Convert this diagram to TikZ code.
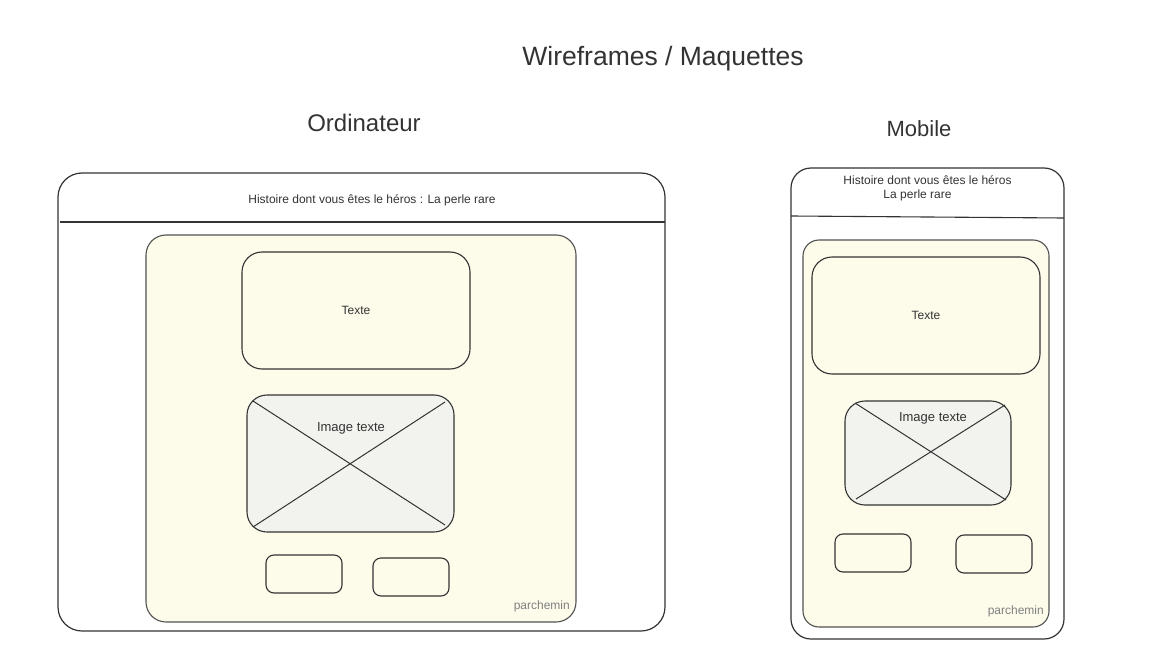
\documentclass[tikz,border=0pt]{standalone}
\usepackage{fontspec}
\setmainfont{Liberation Sans}
\usetikzlibrary{calc}
\definecolor{ink}{HTML}{333333}
\definecolor{parch}{HTML}{FDFBEA}
\definecolor{imgfill}{HTML}{F2F2EE}
\definecolor{note}{HTML}{808080}
\begin{document}
\begin{tikzpicture}[x=1pt,y=-1pt,
  screen/.style={draw=ink, line width=1.2pt, rounded corners=#1, inner sep=0pt, outer sep=0pt, fill=white},
  screen/.default=24pt,
  sheet/.style={draw=ink!85, line width=1.1pt, rounded corners=#1, inner sep=0pt, outer sep=0pt, fill=parch},
  sheet/.default=20pt,
  block/.style={draw=ink, line width=1.1pt, rounded corners=20pt, inner sep=0pt, outer sep=0pt, fill=parch},
  picbox/.style={draw=ink, line width=1.1pt, rounded corners=20pt, inner sep=0pt, outer sep=0pt, fill=imgfill},
  btn/.style={draw=ink, line width=1.1pt, rounded corners=8pt, inner sep=0pt, outer sep=0pt,
    minimum width=76pt, minimum height=38pt},
  rule/.style={draw=ink, line width=1.1pt},
  cross/.style={draw=ink, line width=1pt},
  lbl/.style={text=ink, font=\fontsize{12}{14}\selectfont, inner sep=0pt},
  piclbl/.style={text=ink, font=\fontsize{13}{15}\selectfont, inner sep=1pt, fill=imgfill},
  tag/.style={text=note, font=\fontsize{12}{14}\selectfont, inner sep=0pt, anchor=east},
  heading/.style={text=ink, inner sep=0pt}]
\useasboundingbox (0,0) rectangle (1155,668);

% titles
\node[heading, font=\fontsize{26.5}{30}\selectfont] (title) at (663,59) {Wireframes / Maquettes};
\node[heading, font=\fontsize{24}{28}\selectfont] (tdesk) at (364,123) {Ordinateur};
\node[heading, font=\fontsize{22}{26}\selectfont] (tmob) at (919,129) {Mobile};

% ---------- desktop ----------
\node[screen, minimum width=607pt, minimum height=458pt] (pc) at (361.5,402) {};
\coordinate (pchd) at (0,222);
\draw[rule] ($(pc.west|-pchd)+(2,0)$) coordinate (pcl) -- (pc.east|-pchd) coordinate (pcr);
\node[lbl] (pctitle) at (372,200.5) {Histoire dont vous êtes le héros : La perle rare};

\node[sheet, minimum width=430pt, minimum height=387pt] (pcpaper) at (361,428.5) {};
\node[tag] (pctag) at (570,606) {parchemin};

\node[block, minimum width=228pt, minimum height=117pt] (pctext) at (356,310.5) {};
\node[lbl] at (pctext.center) {Texte};

\node[picbox, minimum width=207pt, minimum height=137pt] (pcimg) at (350.5,463.5) {};
\draw[cross] ($(pcimg.north west)+(6,6)$) -- ($(pcimg.south east)+(-9,-7)$);
\draw[cross] ($(pcimg.north east)+(-9,7)$) -- ($(pcimg.south west)+(6,-5)$);
\node[piclbl] at (351,428) {Image texte};

\node[btn] (pcb1) at (304,574) {};
\node[btn] (pcb2) at (411,577) {};

% ---------- mobile ----------
\node[screen=20pt, minimum width=273pt, minimum height=471pt] (mob) at (927.5,403.5) {};
\coordinate (mbhdl) at (0,216);
\coordinate (mbhdr) at (0,218);
\draw[rule] (mob.west|-mbhdl) -- (mob.east|-mbhdr);
\node[lbl, align=center] (mbtitle) at (927.5,188.5) {Histoire dont vous êtes le héros\\La perle rare\hspace*{20pt}};

\node[sheet=16pt, minimum width=246pt, minimum height=387pt] (mbpaper) at (926,433.5) {};
\node[tag] (mbtag) at (1044,611) {parchemin};

\node[block, minimum width=228pt, minimum height=117pt] (mbtext) at (926,315.5) {};
\node[lbl] at (mbtext.center) {Texte};

\node[picbox, minimum width=166pt, minimum height=104pt] (mbimg) at (928,453) {};
\draw[cross] ($(mbimg.north west)+(10,2)$) -- ($(mbimg.south east)+(-5,-5)$);
\draw[cross] ($(mbimg.north east)+(-6,4)$) -- ($(mbimg.south west)+(11,-6)$);
\node[piclbl] at (933,418) {Image texte};

\node[btn] (mbb1) at (873,553) {};
\node[btn] (mbb2) at (994,554) {};
\end{tikzpicture}
\end{document}
